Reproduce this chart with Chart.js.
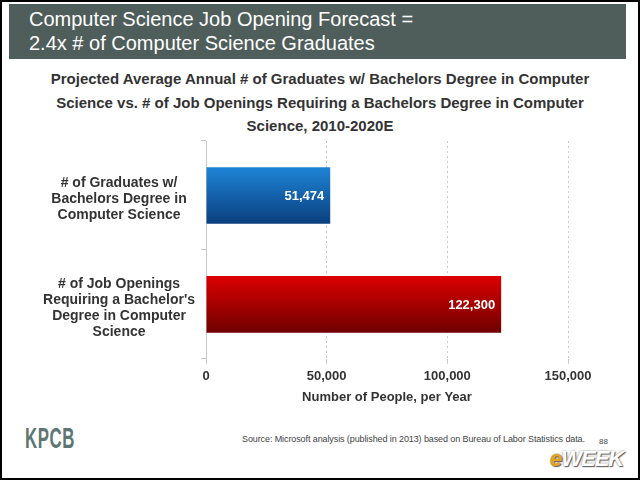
<!DOCTYPE html>
<html>
<head>
<meta charset="utf-8">
<script src="https://cdn.jsdelivr.net/npm/chart.js@4"></script>
<style>
  html, body { margin: 0; padding: 0; }
  body { width: 640px; height: 480px; background: #000; position: relative; overflow: hidden; font-family: "Liberation Sans", Arial, sans-serif; }
  #page { position: absolute; left: 2px; top: 2px; width: 636px; height: 476px; background: #fff; }
  #header { position: absolute; left: 7px; top: 2px; width: 617px; height: 55px; background: #4f5e5b; }
  #header div { position: absolute; left: 20px; color: #fff; font-size: 20px; line-height: 24px; top: 3px; }
  #sub { position: absolute; left: 0; top: 65px; width: 636px; text-align: center; font-weight: bold; font-size: 15px; line-height: 23.5px; color: #333; }
  #kpcb { position: absolute; left: 23px; top: 420px; font-size: 29px; font-weight: bold; color: #5d7673; transform: scaleX(0.58); transform-origin: left; letter-spacing: 1px; }
  #src { position: absolute; left: 240px; top: 432px; font-size: 9px; color: #444; letter-spacing: -0.1px; }
  #pg { position: absolute; left: 597px; top: 435px; font-size: 8px; color: #444; }
  #ew { position: absolute; left: 548px; top: 444px; font-size: 22px; font-weight: bold; font-style: italic; color: #fff; text-shadow: 0 0 2px #777, 1px 1px 1px #555; letter-spacing: -1px; }
  #ew span { color: #e8a317; }
  #wrap { position: absolute; left: 0; top: 130px; width: 640px; height: 275px; }
</style>
</head>
<body>
<div id="page">
  <div id="header"><div>Computer Science Job Opening Forecast =<br>2.4x # of Computer Science Graduates</div></div>
  <div id="sub">Projected Average Annual # of Graduates w/ Bachelors Degree in Computer<br>Science vs. # of Job Openings Requiring a Bachelors Degree in Computer<br>Science, 2010-2020E</div>
  <div id="kpcb">KPCB</div>
  <div id="src">Source: Microsoft analysis (published in 2013) based on Bureau of Labor Statistics data.</div>
  <div id="pg">88</div>
  <div id="ew"><span>e</span>WEEK</div>
</div>
<div id="wrap"><canvas id="chart"></canvas></div>
<script>
var categories = [
  ["# of Graduates w/", "Bachelors Degree in", "Computer Science"],
  ["# of Job Openings", "Requiring a Bachelor's", "Degree in Computer", "Science"]
];
var values = [51474, 122300];
var tickValues = [0, 50000, 100000, 150000];
var axisTitle = "Number of People, per Year";
var barPct = 0.52;

// vertical gradient per bar, computed from the category scale
function barFill(context) {
  var chart = context.chart;
  var area = chart.chartArea;
  var yScale = chart.scales.y;
  if (!area || !yScale) return context.dataIndex === 0 ? '#1565b0' : '#b00000';
  var cy = yScale.getPixelForValue(context.dataIndex);
  var h = (area.bottom - area.top) / values.length * barPct / 2;
  var g = chart.ctx.createLinearGradient(0, cy - h, 0, cy + h);
  if (context.dataIndex === 0) {
    g.addColorStop(0, '#1e84d6');
    g.addColorStop(1, '#0a3f7e');
  } else {
    g.addColorStop(0, '#dc0000');
    g.addColorStop(1, '#700000');
  }
  return g;
}

var valueLabels = {
  id: 'valueLabels',
  afterDatasetsDraw: function(chart) {
    var ctx = chart.ctx;
    var meta = chart.getDatasetMeta(0);
    ctx.save();
    ctx.fillStyle = '#fff';
    ctx.font = 'bold 13px "Liberation Sans", Arial, sans-serif';
    ctx.textAlign = 'right';
    ctx.textBaseline = 'middle';
    meta.data.forEach(function(bar, i) {
      ctx.fillText(values[i].toLocaleString('en-US'), bar.x - 6, bar.y + 1);
    });
    ctx.restore();
  }
};

new Chart(document.getElementById('chart'), {
  type: 'bar',
  data: {
    labels: categories,
    datasets: [{
      data: values,
      backgroundColor: barFill,
      barPercentage: barPct,
      categoryPercentage: 1.0
    }]
  },
  options: {
    indexAxis: 'y',
    responsive: true,
    maintainAspectRatio: false,
    animation: false,
    events: [],
    layout: { padding: { left: 0, right: 72, top: 11, bottom: 0 } },
    plugins: { legend: { display: false }, tooltip: { enabled: false } },
    scales: {
      x: {
        min: 0,
        max: 150000,
        afterBuildTicks: function(scale) {
          scale.ticks = tickValues.map(function(v) { return { value: v }; });
        },
        afterFit: function(scale) { scale.paddingLeft = 0; scale.paddingRight = 0; },
        border: { display: false, dash: [2, 3] },
        grid: {
          color: function(c) { return c.tick && c.tick.value === 0 ? 'rgba(0,0,0,0)' : '#c8c8c8'; },
          tickColor: '#c8c8c8',
          tickLength: 5,
          lineWidth: 1
        },
        ticks: {
          color: '#333',
          padding: 5,
          font: { family: '"Liberation Sans", Arial, sans-serif', size: 13, weight: 'bold' },
          callback: function(v) { return Number(v).toLocaleString('en-US'); }
        },
        title: {
          display: true,
          text: axisTitle,
          color: '#333',
          padding: { top: 0, bottom: 0 },
          font: { family: '"Liberation Sans", Arial, sans-serif', size: 13, weight: 'bold' }
        }
      },
      y: {
        afterFit: function(scale) { scale.width = 206; scale.paddingTop = 0; scale.paddingBottom = 0; },
        border: { display: true, color: '#c8c8c8', width: 1 },
        grid: {
          drawOnChartArea: false,
          drawTicks: true,
          tickLength: 5,
          tickColor: '#c8c8c8'
        },
        ticks: {
          crossAlign: 'center',
          padding: 6,
          labelOffset: 4,
          color: '#333',
          font: { family: '"Liberation Sans", Arial, sans-serif', size: 14, weight: 'bold', lineHeight: 1.15 }
        }
      }
    }
  },
  plugins: [valueLabels]
});
</script>
</body>
</html>
